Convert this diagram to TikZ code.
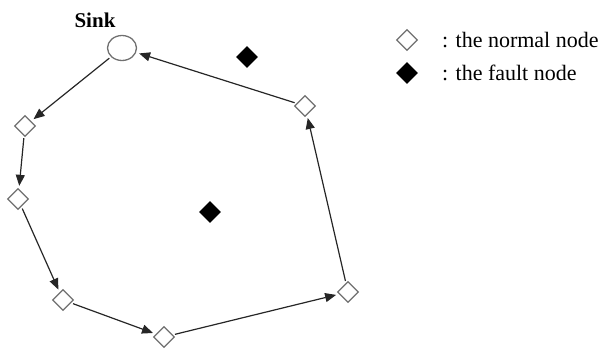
\documentclass[tikz,border=0pt]{standalone}
\usepackage{fontspec}
\setmainfont{Liberation Serif}
\usetikzlibrary{shapes.geometric, arrows.meta, positioning}
\definecolor{EdgeGray}{HTML}{262626}
\definecolor{NodeGray}{HTML}{707070}

\begin{document}
\begin{tikzpicture}[x=1pt, y=-1pt,
    normal/.style={diamond, draw=NodeGray, line width=1.3pt, fill=white, minimum size=21pt, inner sep=0pt},
    fault/.style={diamond, fill=black, minimum size=22pt, inner sep=0pt},
    hop/.style={-{Triangle[length=11pt, width=9pt]}, line width=1.2pt, draw=EdgeGray, shorten >=3pt, shorten <=2pt},
    legend/.style={font=\fontsize{22}{24}\selectfont, anchor=west, inner sep=0pt}]
    \useasboundingbox (0,0) rectangle (611,349);
    % sink and route
    \node[ellipse, draw=NodeGray, line width=1.3pt, minimum width=29pt, minimum height=25pt, inner sep=0pt] (sink) at (122,48) {};
    \node[font=\fontsize{21}{23}\selectfont\bfseries] (sinklabel) at (95,20) {Sink};
    \node[normal] (n1) at (25,126) {};
    \node[normal] (n2) at (18,199) {};
    \node[normal] (n3) at (63,300) {};
    \node[normal] (n4) at (164,337) {};
    \node[normal] (n5) at (348,292) {};
    \node[normal] (n6) at (305,106) {};
    % fault nodes
    \node[fault] (f1) at (247,57) {};
    \node[fault] (f2) at (210,212) {};
    % hops along the route
    \draw[hop] (sink) -- (n1);
    \draw[hop] (n1) -- (n2);
    \draw[hop] (n2) -- (n3);
    \draw[hop] (n3) -- (n4);
    \draw[hop] (n4) -- (n5);
    \draw[hop] (n5) -- (n6);
    \draw[hop] (n6) -- (sink);
    % legend
    \node[normal] (keynormal) at (407,40) {};
    \node[fault] (keyfault) at (407,73) {};
    \node[legend] (txtnormal) at (442,40) {: the normal node};
    \node[legend] (txtfault) at (442,73) {: the fault node};
\end{tikzpicture}
\end{document}
